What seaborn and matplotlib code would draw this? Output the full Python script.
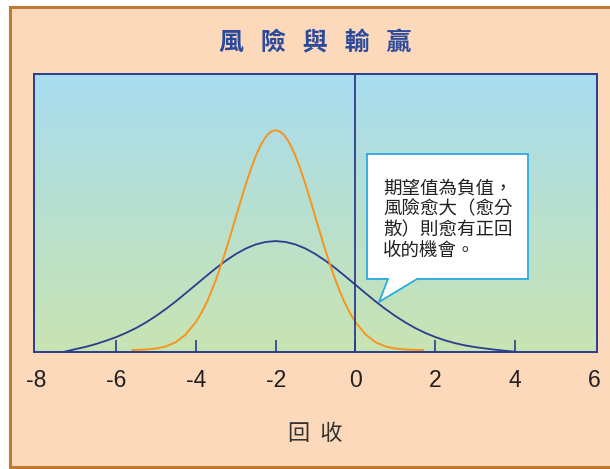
import numpy as np
import pandas as pd
import matplotlib
matplotlib.use("Agg")
import matplotlib.pyplot as plt
from matplotlib.colors import LinearSegmentedColormap
from matplotlib.patches import Polygon, Rectangle
import seaborn as sns

# ---- data ---------------------------------------------------------------
tick_values = [-8, -6, -4, -2, 0, 2, 4, 6]
tick_labels = ["-8", "-6", "-4", "-2", "0", "2", "4", "6"]

# wide (high-risk) curve
wide_x = [-7.3, -7.0, -6.75, -6.5, -6.25, -6.0, -5.75, -5.5, -5.25, -5.0,
          -4.75, -4.5, -4.25, -4.0, -3.75, -3.5, -3.25, -3.0, -2.75, -2.5,
          -2.25, -2.0, -1.75, -1.5, -1.25, -1.0, -0.75, -0.5, -0.25, 0.0,
          0.25, 0.5, 0.75, 1.0, 1.25, 1.5, 1.75, 2.0, 2.25, 2.5,
          2.75, 3.0, 3.25, 3.5, 3.75, 4.0]
wide_y = [0.0005, 0.0055, 0.0095, 0.0145, 0.0203, 0.0268, 0.0344, 0.0431, 0.0533, 0.0648,
          0.0775, 0.0913, 0.1060, 0.1210, 0.1360, 0.1506, 0.1641, 0.1761, 0.1860, 0.1934,
          0.1979, 0.1995, 0.1979, 0.1934, 0.1860, 0.1761, 0.1641, 0.1506, 0.1360, 0.1210,
          0.1060, 0.0913, 0.0775, 0.0648, 0.0533, 0.0431, 0.0344, 0.0270, 0.0209, 0.0159,
          0.0119, 0.0088, 0.0064, 0.0042, 0.0022, 0.0006]

# narrow (low-risk) curve
narrow_x = [-5.6, -5.5, -5.25, -5.0, -4.75, -4.5, -4.25,
            -4.0, -3.9, -3.8, -3.7, -3.6, -3.5, -3.4, -3.3, -3.2, -3.1,
            -3.0, -2.9, -2.8, -2.7, -2.6, -2.5, -2.4, -2.3, -2.2, -2.1,
            -2.0, -1.9, -1.8, -1.7, -1.6, -1.5, -1.4, -1.3, -1.2, -1.1,
            -1.0, -0.9, -0.8, -0.7, -0.6, -0.5, -0.4, -0.3, -0.2, -0.1,
            0.0, 0.25, 0.5, 0.75, 1.0, 1.25, 1.5, 1.7]
narrow_y = [0.0035, 0.0038, 0.0045, 0.0062, 0.0100, 0.0178, 0.0320,
            0.0540, 0.0656, 0.0790, 0.0940, 0.1109, 0.1295, 0.1497, 0.1714, 0.1942, 0.2179,
            0.2420, 0.2661, 0.2897, 0.3122, 0.3332, 0.3521, 0.3683, 0.3814, 0.3910, 0.3969,
            0.3989, 0.3969, 0.3910, 0.3814, 0.3683, 0.3521, 0.3332, 0.3122, 0.2897, 0.2661,
            0.2420, 0.2179, 0.1942, 0.1714, 0.1497, 0.1295, 0.1109, 0.0940, 0.0790, 0.0656,
            0.0540, 0.0320, 0.0178, 0.0100, 0.0062, 0.0045, 0.0038, 0.0035]

title_text = "風   險   與   輸   贏"
xlabel_text = "回  收"
note_text = "期望值為負值，\n風險愈大（愈分\n散）則愈有正回\n收的機會。"

# ---- style --------------------------------------------------------------
sns.set_style("white")
plt.rcParams["font.family"] = ["Noto Sans CJK TC", "DejaVu Sans"]

NAVY = "#2b3c8e"
ORANGE = "#f7941d"
PEACH = "#fdd9bc"
FRAME = "#c07a32"

fig = plt.figure(figsize=(6.10, 4.69), dpi=100, facecolor="white")

# peach panel with brown frame, kept beneath the axes
panel = Rectangle((10 / 610, 2 / 469), 1.0, 460 / 469,
                  transform=fig.transFigure, facecolor=PEACH,
                  edgecolor=FRAME, linewidth=2.2, zorder=-10)
fig.patches.append(panel)

ax = fig.add_axes([34 / 610, 117 / 469, 563 / 610, 278 / 469])
ax.set_zorder(1)
xmin, xmax, ymin, ymax = -8.06, 6.06, 0.0, 0.5

# vertical sky-to-grass gradient behind the curves
grad_cmap = LinearSegmentedColormap.from_list(
    "sky", ["#c9e4b3", "#b8e0cf", "#a8dcf1"])
ax.imshow(np.linspace(0, 1, 256).reshape(-1, 1), cmap=grad_cmap,
          extent=[xmin, xmax, ymin, ymax], origin="lower",
          aspect="auto", zorder=0)

wide = pd.DataFrame({"x": wide_x, "y": wide_y})
narrow = pd.DataFrame({"x": narrow_x, "y": narrow_y})
sns.lineplot(data=wide, x="x", y="y", color=NAVY, linewidth=1.3, ax=ax, zorder=3)
sns.lineplot(data=narrow, x="x", y="y", color=ORANGE, linewidth=1.4, ax=ax, zorder=3)
ax.axvline(0, color=NAVY, linewidth=1.3, zorder=4)

ax.set_xlim(xmin, xmax)
ax.set_ylim(ymin, ymax)
ax.set_yticks([])
ax.set_ylabel("")

# labelled positions carry no mark; the inner ones get short inward ticks
ax.xaxis.remove_overlapping_locs = False
ax.set_xticks(tick_values)
ax.set_xticklabels(tick_labels, fontfamily="Liberation Sans", fontsize=16.5,
                   color="#231f20")
ax.tick_params(axis="x", which="major", bottom=True, length=0, pad=12)
ax.set_xticks(tick_values[1:-1], minor=True)
ax.tick_params(axis="x", which="minor", bottom=True, direction="in",
               length=8.6, width=1.2, color=NAVY)

for sp in ax.spines.values():
    sp.set_color(NAVY)
    sp.set_linewidth(1.4)

ax.set_xlabel(xlabel_text, fontsize=16, color="#333333")
ax.xaxis.set_label_coords(0.5, -0.25)

ax.text(0.5, 1.111, title_text, transform=ax.transAxes, ha="center",
        va="center", fontsize=18, fontweight="bold", color="#2c4a9b")

# callout bubble
bubble = [(0.5915, 0.7122), (0.8774, 0.7122), (0.8774, 0.2626),
          (0.6803, 0.2626), (0.6128, 0.1799), (0.6288, 0.2626),
          (0.5915, 0.2626)]
ax.add_patch(Polygon(bubble, closed=True, transform=ax.transAxes,
                     facecolor="white", edgecolor="#29abe2",
                     linewidth=1.3, zorder=5))
ax.text(0.6199, 0.476, note_text, transform=ax.transAxes, ha="left",
        va="center", fontsize=13.3, color="#231f20", linespacing=1.2,
        zorder=6)

fig.savefig("out.png", dpi=100, facecolor="white")
